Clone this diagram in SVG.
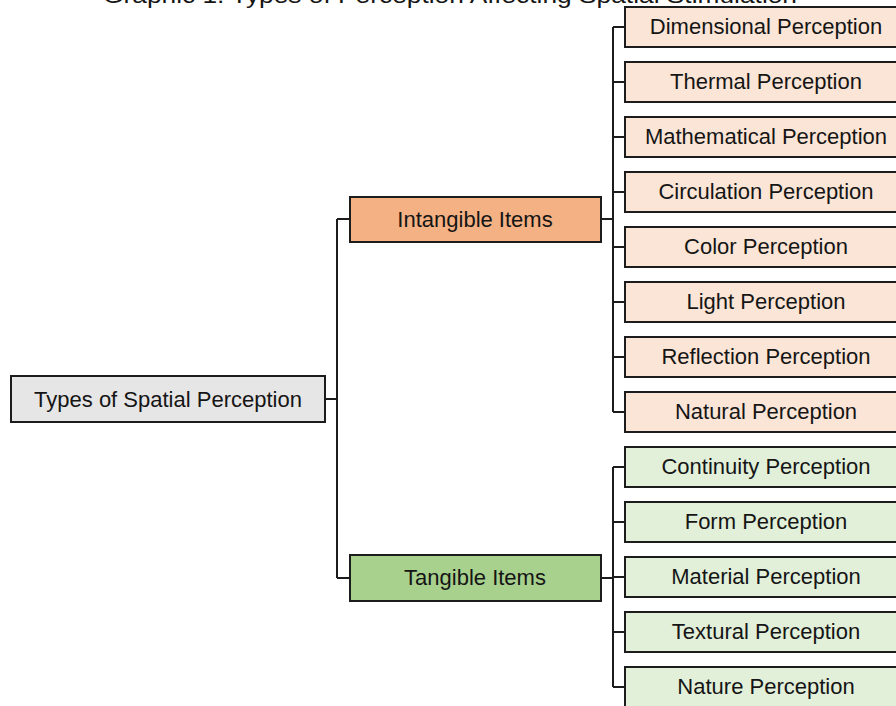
<svg xmlns="http://www.w3.org/2000/svg" width="896" height="706" viewBox="0 0 896 706">
<style>
text{font-family:"Liberation Sans",Arial,sans-serif;font-size:22px;fill:#151515;text-anchor:middle}
rect{stroke:#1c1c1c;stroke-width:2}
.root{fill:#e7e6e6}
.int{fill:#f4b183}
.tan{fill:#a9d18e}
.il{fill:#fbe5d6}
.tl{fill:#e2f0d9}
#connectors path{fill:none;stroke:#1c1c1c;stroke-width:2}
</style>
<rect width="896" height="706" fill="#fff" style="stroke:none"/>
<text id="title" x="450" y="3" textLength="694" lengthAdjust="spacingAndGlyphs">Graphic 1. Types of Perception Affecting Spatial Stimulation</text>
<g id="connectors">
<path d="M325 399H337M337 219V578M337 219H350M337 578H350"/>
<path d="M601 219H613M613 27V412M613 27H625M613 82H625M613 137H625M613 192H625M613 247H625M613 302H625M613 357H625M613 412H625"/>
<path d="M601 578H613M613 467V687M613 467H625M613 522H625M613 577H625M613 632H625M613 687H625"/>
</g>
<g id="root"><rect class="root" x="11" y="376" width="314" height="46"/><text x="168" y="407">Types of Spatial Perception</text></g>
<g id="intangible"><rect class="int" x="350" y="197" width="251" height="45"/><text x="475" y="227">Intangible Items</text></g>
<g id="tangible"><rect class="tan" x="350" y="555" width="251" height="46"/><text x="475" y="585">Tangible Items</text></g>
<g id="n1"><rect class="il" x="625" y="7" width="282" height="40"/><text x="766" y="34">Dimensional Perception</text></g>
<g id="n2"><rect class="il" x="625" y="62" width="282" height="40"/><text x="766" y="89">Thermal Perception</text></g>
<g id="n3"><rect class="il" x="625" y="117" width="282" height="40"/><text x="766" y="144">Mathematical Perception</text></g>
<g id="n4"><rect class="il" x="625" y="172" width="282" height="40"/><text x="766" y="199">Circulation Perception</text></g>
<g id="n5"><rect class="il" x="625" y="227" width="282" height="40"/><text x="766" y="254">Color Perception</text></g>
<g id="n6"><rect class="il" x="625" y="282" width="282" height="40"/><text x="766" y="309">Light Perception</text></g>
<g id="n7"><rect class="il" x="625" y="337" width="282" height="40"/><text x="766" y="364">Reflection Perception</text></g>
<g id="n8"><rect class="il" x="625" y="392" width="282" height="40"/><text x="766" y="419">Natural Perception</text></g>
<g id="n9"><rect class="tl" x="625" y="447" width="282" height="40"/><text x="766" y="474">Continuity Perception</text></g>
<g id="n10"><rect class="tl" x="625" y="502" width="282" height="40"/><text x="766" y="529">Form Perception</text></g>
<g id="n11"><rect class="tl" x="625" y="557" width="282" height="40"/><text x="766" y="584">Material Perception</text></g>
<g id="n12"><rect class="tl" x="625" y="612" width="282" height="40"/><text x="766" y="639">Textural Perception</text></g>
<g id="n13"><rect class="tl" x="625" y="667" width="282" height="40"/><text x="766" y="694">Nature Perception</text></g>
</svg>
